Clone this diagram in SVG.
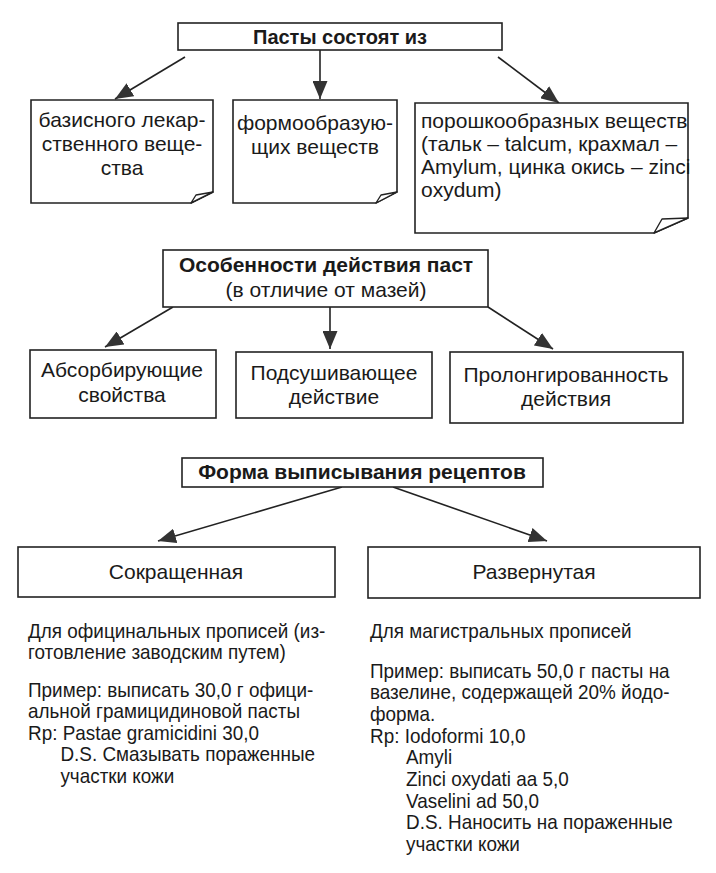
<svg xmlns="http://www.w3.org/2000/svg" width="716" height="873" viewBox="0 0 716 873">
<defs>
<marker id="ah" viewBox="0 0 18 15" refX="18" refY="7.5" markerWidth="18" markerHeight="15" markerUnits="userSpaceOnUse" orient="auto">
<path d="M0,0 L18,7.5 L0,15 Z" fill="#333"/>
</marker>
</defs>
<style>
.box{fill:#fff;stroke:#222;stroke-width:1.6}
.flap{fill:#fff;stroke:#222;stroke-width:1.4;stroke-linejoin:round}
.t{font-family:"Liberation Sans",Arial,sans-serif;font-size:21px;fill:#1a1a1a}
.b{font-family:"Liberation Sans",Arial,sans-serif;font-size:21px;font-weight:bold;fill:#1a1a1a}
.c{text-anchor:middle}
.ln{stroke:#222;stroke-width:1.6;fill:none;marker-end:url(#ah)}
</style>
<rect width="716" height="873" fill="#fff"/>

<g id="connectors">
<line class="ln" x1="185" y1="57" x2="115" y2="99"/>
<line class="ln" x1="320" y1="50" x2="320" y2="99"/>
<line class="ln" x1="498" y1="57" x2="559" y2="103"/>
<line class="ln" x1="173" y1="307" x2="105" y2="347"/>
<line class="ln" x1="330" y1="307" x2="330" y2="349"/>
<line class="ln" x1="488" y1="307" x2="553" y2="349"/>
<line class="ln" x1="342" y1="487" x2="158" y2="541"/>
<line class="ln" x1="393" y1="487" x2="547" y2="541"/>
</g>

<g id="n-pastes">
<rect class="box" x="178" y="23" width="324" height="27"/>
<text class="b c" x="340" y="44" style="font-size:20px">Пасты состоят из</text>
</g>

<g id="n-basis">
<path class="box" d="M31,100 H213 V192 L191,203 H31 Z"/>
<path class="flap" d="M213,192 L196,195 L191,203 Z"/>
<text class="t c" x="122" y="127">базисного лекар-</text>
<text class="t c" x="122" y="151">ственного веще-</text>
<text class="t c" x="122" y="175">ства</text>
</g>

<g id="n-form">
<path class="box" d="M233,100 H397 V192 L376,203 H233 Z"/>
<path class="flap" d="M397,192 L381,195 L376,203 Z"/>
<text class="t c" x="315" y="130">формообразую-</text>
<text class="t c" x="315" y="154">щих веществ</text>
</g>

<g id="n-powder">
<path class="box" d="M415,103 H688 V218 L654,233 H415 Z"/>
<path class="flap" d="M688,218 L662,219 L654,233 Z"/>
<text class="t" x="421" y="128">порошкообразных веществ</text>
<text class="t" x="421" y="151">(тальк – talcum, крахмал –</text>
<text class="t" x="421" y="174">Amylum, цинка окись – zinci</text>
<text class="t" x="421" y="197">oxydum)</text>
</g>

<g id="n-features">
<rect class="box" x="163" y="250" width="325" height="57"/>
<text class="b c" x="326" y="272">Особенности действия паст</text>
<text class="t c" x="326" y="297">(в отличие от мазей)</text>
</g>

<g id="n-absorb">
<rect class="box" x="30" y="350" width="186" height="68"/>
<text class="t c" x="122" y="377">Абсорбирующие</text>
<text class="t c" x="122" y="402">свойства</text>
</g>

<g id="n-dry">
<rect class="box" x="236" y="352" width="196" height="66"/>
<text class="t c" x="334" y="380">Подсушивающее</text>
<text class="t c" x="334" y="404">действие</text>
</g>

<g id="n-prolong">
<rect class="box" x="450" y="352" width="233" height="71"/>
<text class="t c" x="566" y="382">Пролонгированность</text>
<text class="t c" x="566" y="406">действия</text>
</g>

<g id="n-rx">
<rect class="box" x="182" y="458" width="361" height="29"/>
<text class="b c" x="362" y="479">Форма выписывания рецептов</text>
</g>

<g id="n-short">
<rect class="box" x="18" y="547" width="317" height="50"/>
<text class="t c" x="176" y="579">Сокращенная</text>
</g>

<g id="n-full">
<rect class="box" x="368" y="547" width="332" height="51"/>
<text class="t c" x="534" y="579">Развернутая</text>
</g>

<g id="text-short" transform="translate(28 0) scale(0.9 1)">
<text class="t" x="0" y="638">Для официнальных прописей (из-</text>
<text class="t" x="0" y="659">готовление заводским путем)</text>
<text class="t" x="0" y="697">Пример: выписать 30,0 г офици-</text>
<text class="t" x="0" y="718">альной грамицидиновой пасты</text>
<text class="t" x="0" y="740">Rp: Pastae gramicidini 30,0</text>
<text class="t" x="36" y="761">D.S. Смазывать пораженные</text>
<text class="t" x="36" y="783">участки кожи</text>
</g>

<g id="text-full" transform="translate(370 0) scale(0.9 1)">
<text class="t" x="0" y="638">Для магистральных прописей</text>
<text class="t" x="0" y="678">Пример: выписать 50,0 г пасты на</text>
<text class="t" x="0" y="699">вазелине, содержащей 20% йодо-</text>
<text class="t" x="0" y="721">форма.</text>
<text class="t" x="0" y="743">Rp: Iodoformi 10,0</text>
<text class="t" x="40" y="764">Amyli</text>
<text class="t" x="40" y="786">Zinci oxydati aa 5,0</text>
<text class="t" x="40" y="808">Vaselini ad 50,0</text>
<text class="t" x="40" y="829">D.S. Наносить на пораженные</text>
<text class="t" x="40" y="851">участки кожи</text>
</g>
</svg>
